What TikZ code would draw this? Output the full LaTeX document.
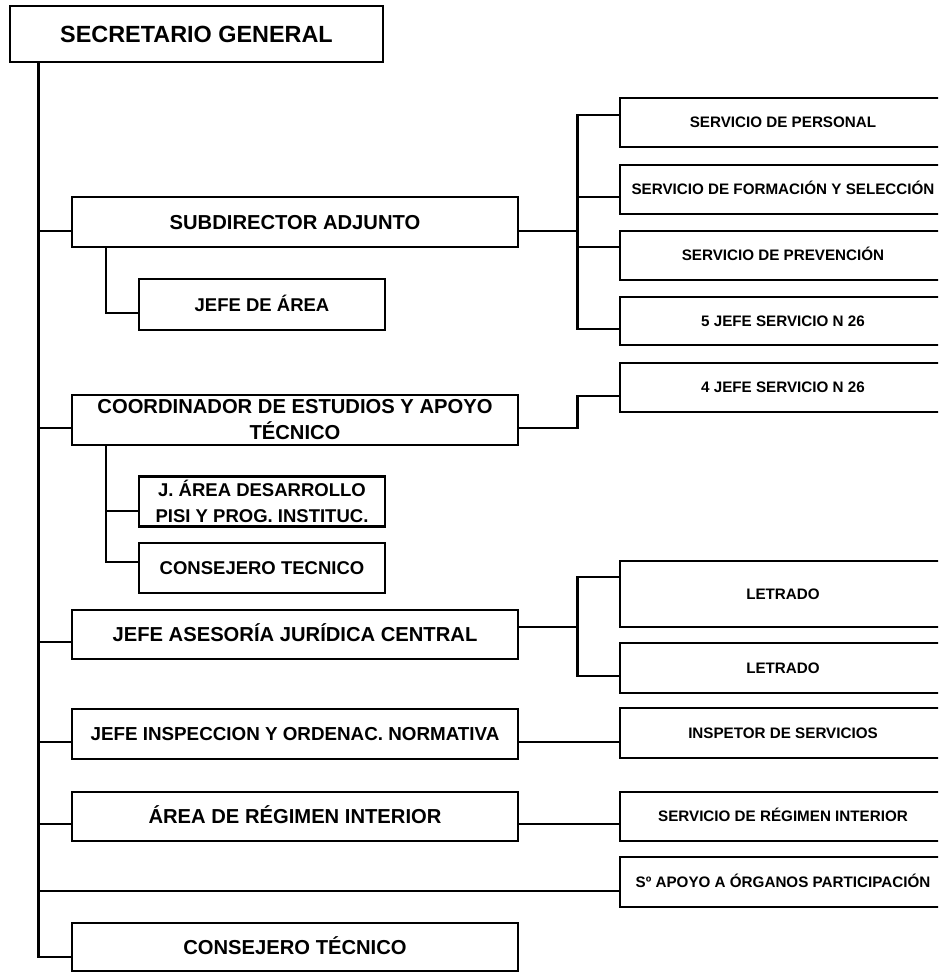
\documentclass[tikz,border=0pt]{standalone}
\usepackage{fontspec}
\setmainfont{Liberation Sans}
\begin{document}
\begin{tikzpicture}[x=1pt,y=-1pt,
  box/.style={draw, line width=2.8pt, inner sep=0pt, align=center,
    font=\bfseries\fontsize{20.2}{26}\selectfont},
  capm/.style={text height=14.5pt, text depth=0pt},
  mainbox/.style={box, capm, minimum width=446pt, minimum height=50pt},
  topbox/.style={box, font=\bfseries\fontsize{23.4}{28}\selectfont,
    text height=16.8pt, text depth=0pt},
  subbox/.style={box, font=\bfseries\fontsize{18.5}{26}\selectfont,
    minimum width=246pt, minimum height=50pt},
  caps/.style={text height=13.2pt, text depth=0pt},
  rbox/.style={box, font=\bfseries\fontsize{15.2}{18}\selectfont,
    text height=10.9pt, text depth=0pt, minimum width=326pt, minimum height=49pt},
  conn/.style={line width=2.5pt}]
\useasboundingbox (0,0) rectangle (938,972);
\clip (0,0) rectangle (938,972);

% top
\node[topbox, minimum width=373pt, minimum height=56pt] (sg) at (196.5,34) {SECRETARIO GENERAL};

% main column
\node[mainbox] (sub) at (295,222) {SUBDIRECTOR ADJUNTO};
\node[subbox, caps, minimum height=51pt] (jarea) at (262,304.5) {JEFE DE ÁREA};
\node[box, minimum width=446pt, minimum height=50pt] (coord) at (295,420) {COORDINADOR DE ESTUDIOS Y APOYO\\TÉCNICO};
\node[subbox] (jdes) at (262,501.5) {J. ÁREA DESARROLLO\\PISI Y PROG. INSTITUC.};
\node[subbox, caps] (cons1) at (262,568) {CONSEJERO TECNICO};
\node[mainbox, minimum height=49pt] (ases) at (295,634.5) {JEFE ASESORÍA JURÍDICA CENTRAL};
\node[mainbox, font=\bfseries\fontsize{18.8}{24}\selectfont, text height=13.5pt] (insp) at (295,734) {JEFE INSPECCION Y ORDENAC. NORMATIVA};
\node[mainbox, minimum height=49pt] (regim) at (295,816.5) {ÁREA DE RÉGIMEN INTERIOR};
\node[mainbox, minimum height=48pt] (cons2) at (295,947) {CONSEJERO TÉCNICO};

% right column
\node[rbox] (r1) at (783,122.5) {SERVICIO DE PERSONAL};
\node[rbox] (r2) at (783,189.5) {SERVICIO DE FORMACIÓN Y SELECCIÓN};
\node[rbox] (r3) at (783,255.5) {SERVICIO DE PREVENCIÓN};
\node[rbox, minimum height=48pt] (r4) at (783,321) {5 JEFE SERVICIO N 26};
\node[rbox] (r5) at (783,387.5) {4 JEFE SERVICIO N 26};
\node[rbox, minimum height=66pt] (let1) at (783,594) {LETRADO};
\node[rbox, minimum height=50pt] (let2) at (783,668) {LETRADO};
\node[rbox, minimum height=50pt] (inspS) at (783,733) {INSPETOR DE SERVICIOS};
\node[rbox] (servR) at (783,816.5) {SERVICIO DE RÉGIMEN INTERIOR};
\node[rbox, minimum height=50pt] (apoyo) at (783,882) {Sº APOYO A ÓRGANOS PARTICIPACIÓN};

% trunk
\coordinate (tk) at (38.5,0);
\coordinate (sx) at (106,0);
\coordinate (rx) at (577.5,0);
\draw[conn] (sg.south -| tk) -- (tk |- 0,957) -- (cons2.west |- 0,957);
\foreach \n/\yy in {sub/231, coord/428, ases/642, insp/742, regim/824}
  \draw[conn] (tk |- 0,\yy) -- (\n.west |- 0,\yy);
\draw[conn] (tk |- 0,891) -- (apoyo.west |- 0,891);

% sub-trees
\draw[conn] (sub.south -| sx) |- (jarea.west |- 0,313);
\draw[conn] (coord.south -| sx) |- (cons1.west |- 0,562);
\draw[conn] (sx |- 0,511) -- (jdes.west |- 0,511);

% right connectors
\draw[conn] (sub.east |- 0,231) -- (rx |- 0,231);
\draw[conn] (r1.west |- 0,115) -| (rx |- 0,329) -- (r4.west |- 0,329);
\draw[conn] (rx |- 0,197) -- (r2.west |- 0,197);
\draw[conn] (rx |- 0,247) -- (r3.west |- 0,247);
\draw[conn] (coord.east |- 0,428) -| (rx |- 0,396) -- (r5.west |- 0,396);
\draw[conn] (ases.east |- 0,627) -- (rx |- 0,627);
\draw[conn] (let1.west |- 0,577) -| (rx |- 0,676) -- (let2.west |- 0,676);
\draw[conn] (insp.east |- 0,742) -- (inspS.west |- 0,742);
\draw[conn] (regim.east |- 0,824) -- (servR.west |- 0,824);
\end{tikzpicture}
\end{document}
